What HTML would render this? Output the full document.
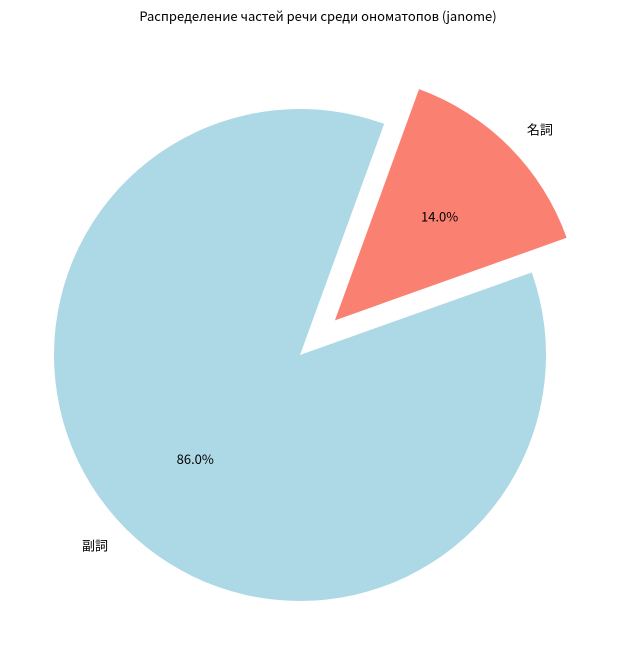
<!DOCTYPE html>
<html><head><meta charset="utf-8"><style>
body{margin:0;background:#fff;}
svg text{font-family:"Noto Sans CJK JP","Liberation Sans",sans-serif;font-size:13px;fill:#000;}
</style></head><body>
<svg width="636" height="656" viewBox="0 0 636 656">
<text x="318" y="21" text-anchor="middle">Распределение частей речи среди ономатопов (janome)</text>
<g id="pie"></g>
</svg>
<script>
const labels = ["名詞", "副詞"];
const values = [14.0, 86.0];
const colors = ["#fa8072", "#add8e6"];
const explode = [0.2, 0];
const cx = 300, cy = 355, R = 246, startAngle = 70;
const g = document.getElementById('pie');
const NS = 'http://www.w3.org/2000/svg';
const total = values.reduce((a,b)=>a+b,0);
let a0 = startAngle;
function pt(x,y,r,deg){const t=deg*Math.PI/180;return [x+r*Math.cos(t), y-r*Math.sin(t)];}
values.forEach((v,i)=>{
  const sweep = v/total*360;
  const a1 = a0 - sweep;
  const mid = (a0+a1)/2;
  const [ox,oy] = pt(cx,cy,explode[i]*R,mid);
  const [x0,y0] = pt(ox,oy,R,a0);
  const [x1,y1] = pt(ox,oy,R,a1);
  const large = sweep>180?1:0;
  const p = document.createElementNS(NS,'path');
  p.setAttribute('d',`M${ox},${oy} L${x0},${y0} A${R},${R} 0 ${large} 1 ${x1},${y1} Z`);
  p.setAttribute('fill',colors[i]);
  
  
  g.appendChild(p);
  const [lx,ly] = pt(ox,oy,R*1.1,mid);
  const t = document.createElementNS(NS,'text');
  t.setAttribute('x',lx); t.setAttribute('y',ly+5);
  t.setAttribute('text-anchor', lx>=ox?'start':'end');
  t.textContent = labels[i];
  
  
  g.appendChild(t);
  const [px,py] = pt(ox,oy,R*0.6,mid);
  const pc = document.createElementNS(NS,'text');
  pc.setAttribute('x',px); pc.setAttribute('y',py+5);
  pc.setAttribute('text-anchor','middle');
  pc.textContent = v.toFixed(1)+'%';
  
  
  g.appendChild(pc);
  a0 = a1;
});
</script>
</body></html>
